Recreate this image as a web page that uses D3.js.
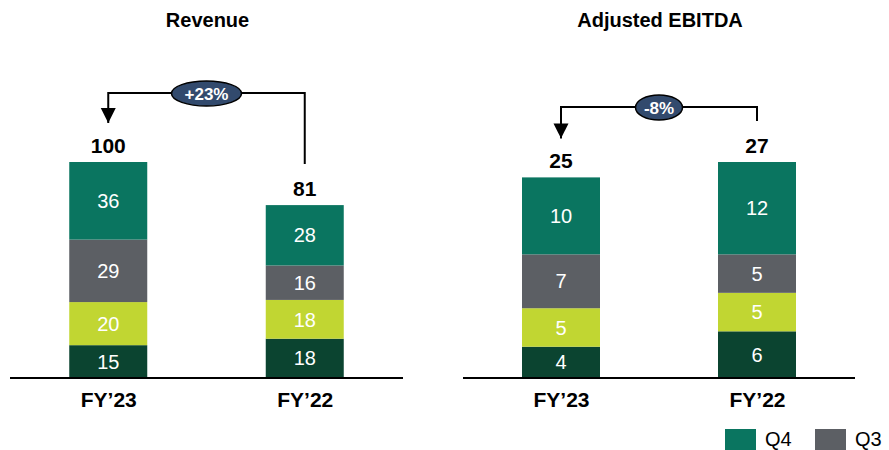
<!DOCTYPE html>
<html>
<head>
<meta charset="utf-8">
<script src="https://cdn.jsdelivr.net/npm/d3@7"></script>
<style>
  html, body { margin: 0; padding: 0; background: #ffffff; }
  svg { display: block; font-family: "Liberation Sans", Arial, sans-serif; }
</style>
</head>
<body>
<svg id="chart" width="889" height="450"></svg>
<script>
// Quarter series, bottom to top of each stack
const categories = ["FY\u201923", "FY\u201922"];
const quarters = ["Q1", "Q2", "Q3", "Q4"];

const revenueQ1 = [15, 18];
const revenueQ2 = [20, 18];
const revenueQ3 = [29, 16];
const revenueQ4 = [36, 28];
const revenueTotals = [100, 81];
const revenueChange = "+23%";

const ebitdaQ1 = [4, 6];
const ebitdaQ2 = [5, 5];
const ebitdaQ3 = [7, 5];
const ebitdaQ4 = [10, 12];
const ebitdaTotals = [25, 27];
const ebitdaChange = "-8%";

const legendItems = ["Q4", "Q3"];

const colors = { Q1: "#0b4430", Q2: "#c1d632", Q3: "#5c5f64", Q4: "#0a7560" };

const panels = [
  { title: "Revenue", series: [revenueQ1, revenueQ2, revenueQ3, revenueQ4],
    totals: revenueTotals, change: revenueChange,
    x0: 10, x1: 403, bracketLift: 30, badgeRx: 35 },
  { title: "Adjusted EBITDA", series: [ebitdaQ1, ebitdaQ2, ebitdaQ3, ebitdaQ4],
    totals: ebitdaTotals, change: ebitdaChange,
    x0: 463, x1: 855, bracketLift: 14, badgeRx: 23.5 }
];

const svg = d3.select("#chart");
const baseY = 377.5, topY = 162, barW = 78;

svg.append("defs").append("marker")
  .attr("id", "arrowHead")
  .attr("viewBox", "0 0 10 10")
  .attr("refX", 5).attr("refY", 10)
  .attr("markerWidth", 17).attr("markerHeight", 15)
  .attr("markerUnits", "userSpaceOnUse")
  .attr("orient", "0")
  .append("path").attr("d", "M0,0 L10,0 L5,10 Z").attr("fill", "#000");

panels.forEach(p => {
  const g = svg.append("g");
  const rows = categories.map((c, i) => {
    const r = { category: c };
    quarters.forEach((q, k) => { r[q] = p.series[k][i]; });
    return r;
  });
  const stacked = d3.stack().keys(quarters)(rows);
  const maxSum = d3.max(rows, r => d3.sum(quarters, q => r[q]));

  const x = d3.scalePoint().domain(categories).range([p.x0, p.x1]).padding(0.5);
  const y = d3.scaleLinear().domain([0, maxSum]).range([baseY, topY]);

  // title
  g.append("text")
    .attr("x", (p.x0 + p.x1) / 2 + 1).attr("y", 27)
    .attr("text-anchor", "middle")
    .attr("font-size", 20).attr("font-weight", "bold")
    .text(p.title);

  // stacked bars
  stacked.forEach(layer => {
    const lg = g.append("g");
    lg.selectAll("rect").data(layer).enter().append("rect")
      .attr("x", d => x(d.data.category) - barW / 2)
      .attr("y", d => y(d[1]))
      .attr("width", barW)
      .attr("height", d => y(d[0]) - y(d[1]))
      .attr("fill", colors[layer.key]);
    lg.selectAll("text").data(layer).enter().append("text")
      .attr("x", d => x(d.data.category))
      .attr("y", d => (y(d[0]) + y(d[1])) / 2)
      .attr("dy", "0.36em")
      .attr("text-anchor", "middle")
      .attr("font-size", 20)
      .attr("fill", "#ffffff")
      .text(d => d.data[layer.key]);
  });

  // totals
  const tops = rows.map(r => y(d3.sum(quarters, q => r[q])));
  g.selectAll(".total").data(categories).enter().append("text")
    .attr("x", c => x(c))
    .attr("y", (c, i) => tops[i] - 9)
    .attr("text-anchor", "middle")
    .attr("font-size", 21).attr("font-weight", "bold")
    .text((c, i) => p.totals[i]);

  // baseline axis
  const axis = d3.axisBottom(x).tickSize(0).tickPadding(14);
  const ag = g.append("g").attr("transform", `translate(0,${baseY + 0.5})`).call(axis);
  ag.select(".domain").attr("d", `M${p.x0},0H${p.x1}`).attr("stroke", "#000").attr("stroke-width", 2.2);
  ag.selectAll(".tick text")
    .attr("font-family", "'Liberation Sans', Arial, sans-serif")
    .attr("font-size", 21).attr("font-weight", "bold").attr("fill", "#000");

  // change bracket: from the later year down to the current year
  const leftX = x(categories[0]), rightX = x(categories[1]);
  const leftEnd = tops[0] - 9 - 30, rightEnd = tops[1] - 9 - 32;
  const hY = Math.min(leftEnd, rightEnd) - p.bracketLift;
  g.append("path")
    .attr("d", `M${rightX},${rightEnd}V${hY}H${leftX}V${leftEnd}`)
    .attr("fill", "none").attr("stroke", "#000").attr("stroke-width", 2)
    .attr("marker-end", "url(#arrowHead)");

  const cx = (leftX + rightX) / 2;
  g.append("ellipse")
    .attr("cx", cx).attr("cy", hY + 0.5)
    .attr("rx", p.badgeRx).attr("ry", 12.5)
    .attr("fill", "#324a6d").attr("stroke", "#000").attr("stroke-width", 1.5);
  g.append("text")
    .attr("x", cx).attr("y", hY + 0.5).attr("dy", "0.36em")
    .attr("text-anchor", "middle")
    .attr("font-size", 17).attr("font-weight", "bold").attr("fill", "#ffffff")
    .text(p.change);
});

// legend
const legend = svg.append("g");
const legendX = d3.scalePoint().domain(legendItems).range([725, 815]);
legendItems.forEach(k => {
  legend.append("rect")
    .attr("x", legendX(k)).attr("y", 429)
    .attr("width", 31).attr("height", 21)
    .attr("fill", colors[k]);
  legend.append("text")
    .attr("x", legendX(k) + 40).attr("y", 446)
    .attr("font-size", 20).attr("fill", "#000")
    .text(k);
});
</script>
</body>
</html>
